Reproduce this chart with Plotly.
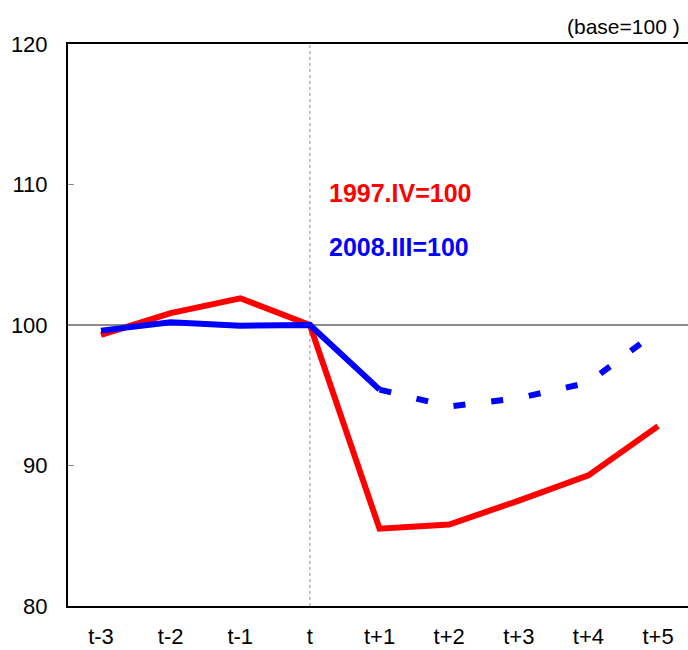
import plotly.graph_objects as go

periods = ["t-3", "t-2", "t-1", "t", "t+1", "t+2", "t+3", "t+4", "t+5"]
crisis_1997 = [99.3, 100.85, 101.9, 100.0, 85.5, 85.8, 87.5, 89.3, 92.8]
crisis_2008_actual = [99.6, 100.2, 99.95, 100.0, 95.4]
crisis_2008_forecast = [95.4, 94.2, 94.8, 95.9, 99.6]
label_1997 = "1997.IV=100"
label_2008 = "2008.III=100"
y_ticks = [80, 90, 100, 110, 120]

RED = "#ff0000"
BLUE = "#0000ff"
FONT = "Liberation Sans, Arial, sans-serif"
tick_font = dict(family=FONT, size=22, color="#000000")

fig = go.Figure()
fig.add_trace(go.Scatter(x=periods, y=crisis_1997, mode="lines",
                         line=dict(color=RED, width=6), showlegend=False))
fig.add_trace(go.Scatter(x=periods[:5], y=crisis_2008_actual, mode="lines",
                         line=dict(color=BLUE, width=6), showlegend=False))
fig.add_trace(go.Scatter(x=periods[4:], y=crisis_2008_forecast, mode="lines",
                         line=dict(color=BLUE, width=6, dash="12px,26px"), showlegend=False))

# reference lines
fig.add_hline(y=100, line=dict(color="#8c8c8c", width=2), layer="below")
fig.add_vline(x=3, line=dict(color="#8c8c8c", width=1, dash="dot"), layer="below")

fig.add_annotation(x=3.25, y=109.4, xref="x", yref="y", text="<b>" + label_1997 + "</b>",
                   showarrow=False, xanchor="left", yanchor="middle",
                   font=dict(family=FONT, size=25, color=RED))
fig.add_annotation(x=3.25, y=105.55, xref="x", yref="y", text="<b>" + label_2008 + "</b>",
                   showarrow=False, xanchor="left", yanchor="middle",
                   font=dict(family=FONT, size=25, color=BLUE))
fig.add_annotation(x=0.99, y=1.032, xref="paper", yref="paper", text="(base=100 )",
                   showarrow=False, xanchor="right", yanchor="middle",
                   font=dict(family=FONT, size=21, color="#000000"))

fig.update_xaxes(type="category", categoryorder="array", categoryarray=periods,
                 range=[-0.474, 8.43], showgrid=False, zeroline=False,
                 showline=True, linecolor="#000000", linewidth=2, mirror=True,
                 ticks="", tickfont=tick_font, ticklabelstandoff=10, automargin=False)
fig.update_yaxes(range=[80, 120], tickvals=y_ticks, showgrid=False, zeroline=False,
                 showline=True, linecolor="#000000", linewidth=2, mirror=False,
                 ticks="inside", ticklen=6, tickcolor="#8c8c8c", tickwidth=1,
                 tickfont=tick_font, ticklabelstandoff=14, automargin=False)

fig.update_layout(width=688, height=650, margin=dict(l=68, r=0, t=44, b=44),
                  plot_bgcolor="#ffffff", paper_bgcolor="#ffffff")

fig.write_html("out.html", config={"displayModeBar": False},
               post_script="document.body.style.margin='0px';")
